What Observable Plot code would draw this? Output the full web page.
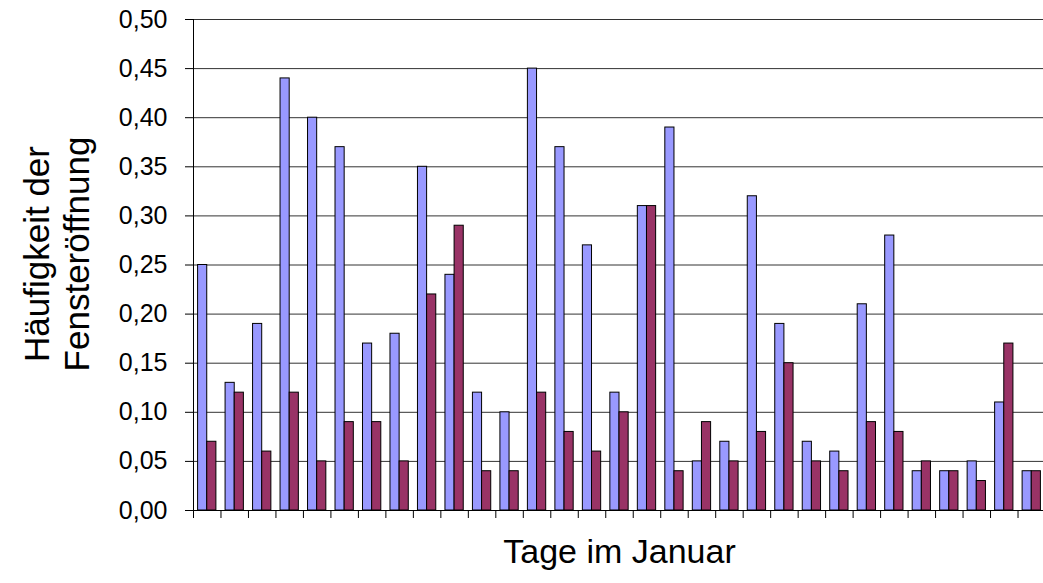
<!DOCTYPE html>
<html>
<head>
<meta charset="utf-8">
<script src="https://cdn.jsdelivr.net/npm/d3@7"></script>
<script src="https://cdn.jsdelivr.net/npm/@observablehq/plot@0.6"></script>
<style>
  html, body { margin: 0; padding: 0; background: #fff; }
  #chart { width: 1043px; height: 583px; overflow: hidden; }
</style>
</head>
<body>
<div id="chart"></div>
<script>
// Days of January (categories)
const days = [1,2,3,4,5,6,7,8,9,10,11,12,13,14,15,16,17,18,19,20,21,22,23,24,25,26,27,28,29,30,31];
// Series 1 (blue bars)
const series1 = [0.25,0.13,0.19,0.44,0.40,0.37,0.17,0.18,0.35,0.24,0.12,0.10,0.45,0.37,0.27,0.12,0.31,0.39,0.05,0.07,0.32,0.19,0.07,0.06,0.21,0.28,0.04,0.04,0.05,0.11,0.04];
// Series 2 (purple bars)
const series2 = [0.07,0.12,0.06,0.12,0.05,0.09,0.09,0.05,0.22,0.29,0.04,0.04,0.12,0.08,0.06,0.10,0.31,0.04,0.09,0.05,0.08,0.15,0.05,0.04,0.09,0.08,0.05,0.04,0.03,0.17,0.04];
// Y tick values
const yTicks = [0,0.05,0.10,0.15,0.20,0.25,0.30,0.35,0.40,0.45,0.50];

const xTitle = "Tage im Januar";
const yTitle = "Häufigkeit der\nFensteröffnung";

const rows = days.map((d, i) => ({day: d, s1: series1[i], s2: series2[i]}));

const W = 1043, H = 583;
const mL = 193, mR = -2, mT = 19, mB = 73;
const bw = (W - mR - mL) / days.length;
const barW = 9.15;
const pad = (bw - 2 * barW) / 2;

const chart = Plot.plot({
  width: W,
  height: H,
  marginLeft: mL,
  marginRight: mR,
  marginTop: mT,
  marginBottom: mB,
  style: {fontFamily: "'Liberation Sans', Arial, sans-serif", background: "#fff", color: "#000", overflow: "visible"},
  x: {type: "band", domain: days, padding: 0, round: false, axis: null},
  y: {domain: [0, 0.5], axis: null},
  marks: [
    Plot.ruleY(yTicks.filter(d => d > 0), {stroke: "#333", strokeWidth: 1}),
    Plot.barY(rows, {x: "day", y: "s1", fill: "#9999FF", stroke: "#000", strokeWidth: 1,
      insetLeft: pad, insetRight: bw - pad - barW}),
    Plot.barY(rows, {x: "day", y: "s2", fill: "#993366", stroke: "#000", strokeWidth: 1,
      insetLeft: pad + barW, insetRight: pad}),
    Plot.ruleY([0], {stroke: "#000", strokeWidth: 1}),
    Plot.axisY({ticks: yTicks, tickSize: 8, tickPadding: 18, fontSize: 25,
      tickFormat: d => d.toFixed(2).replace(".", ","), label: null, stroke: "#000", color: "#000"}),
    Plot.frame({anchor: "left", stroke: "#000"}),
    Plot.axisX({tickSize: 8, tickFormat: () => "", label: null, dx: -bw / 2, stroke: "#000"}),
    Plot.text([xTitle], {frameAnchor: "bottom", dy: 52, fontSize: 34, fill: "#000"}),
    Plot.text([yTitle], {frameAnchor: "left", textAnchor: "middle", rotate: -90, dx: -137, dy: -11, fontSize: 35,
      lineHeight: 40 / 35, fill: "#000"})
  ]
});
document.getElementById("chart").appendChild(chart);
</script>
</body>
</html>
